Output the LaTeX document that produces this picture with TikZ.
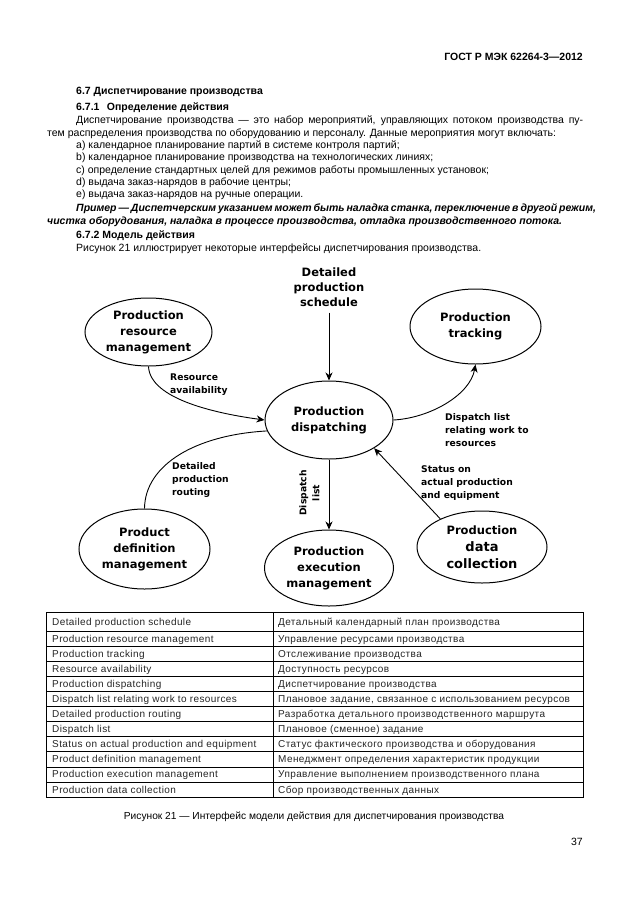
\documentclass[tikz,border=0pt]{standalone}
\usepackage{fontspec}
\setmainfont{Liberation Sans}
\newfontfamily\dejavu{DejaVu Sans}
\newfontfamily\tabfont[LetterSpace=4]{Liberation Sans}
\usetikzlibrary{shapes.geometric,arrows.meta}

\begin{document}
\begin{tikzpicture}[x=1pt,y=-1pt,
  txt/.style={inner sep=0pt,anchor=base west,font=\fontsize{10.5}{12.5}\selectfont},
  hdr/.style={txt,font=\fontsize{10.5}{12.5}\selectfont\bfseries},
  unit/.style={ellipse,draw,line width=1pt,inner sep=0pt,align=center,font=\dejavu\bfseries\fontsize{11.5}{16}\selectfont},
  flow/.style={inner sep=0pt,align=left,anchor=west,font=\dejavu\bfseries\fontsize{9.2}{13}\selectfont},
  link/.style={line width=0.9pt,-{Stealth[length=8pt,width=7pt,inset=2.5pt]}},
  cell/.style={inner sep=0pt,anchor=base west,text=black!85,font=\tabfont\fontsize{10}{11}\selectfont}]
\useasboundingbox[fill=white] (0,0) rectangle (630,913);
\node[hdr,anchor=base east] (gost) at (583,60) {ГОСТ Р МЭК 62264-3—2012};
\node[hdr] (s67) at (76,94) {6.7 Диспетчирование производства};
\node[hdr] (s671) at (76,110.5) {6.7.1\hspace{0.7em}Определение действия};
\node[txt] (p1) at (76,123.5) {\makebox[507pt][s]{Диспетчирование производства — это набор мероприятий, управляющих потоком производства пу-}};
\node[txt] (p2) at (47,136) {тем распределения производства по оборудованию и персоналу. Данные мероприятия могут включать:};
\node[txt] (ia) at (76,148.5) {а) календарное планирование партий в системе контроля партий;};
\node[txt] (ib) at (76,160.5) {b) календарное планирование производства на технологических линиях;};
\node[txt] (ic) at (76,173) {с) определение стандартных целей для режимов работы промышленных установок;};
\node[txt] (id) at (76,185.5) {d) выдача заказ-нарядов в рабочие центры;};
\node[txt] (ie) at (76,197.5) {е) выдача заказ-нарядов на ручные операции.};
\node[txt,font=\fontsize{10.5}{12.5}\selectfont\bfseries\itshape] (ex1) at (76,211.5) {\makebox[507pt][s]{Пример — Диспетчерским указанием может быть наладка станка, переключение в другой режим,}};
\node[txt,font=\fontsize{10.5}{12.5}\selectfont\bfseries\itshape] (ex2) at (47,224) {чистка оборудования, наладка в процессе производства, отладка производственного потока.};
\node[hdr] (s672) at (76,238.5) {6.7.2 Модель действия};
\node[txt] (fig) at (76,251.5) {Рисунок 21 иллюстрирует некоторые интерфейсы диспетчирования производства.};

\node[inner sep=0pt,align=center,font=\dejavu\bfseries\fontsize{11.5}{15}\selectfont] (sched) at (329,287) {Detailed\\production\\schedule};
\node[unit,minimum width=127pt,minimum height=68pt] (prm) at (148.5,332) {Production\\resource\\management};
\node[unit,minimum width=131pt,minimum height=75pt] (track) at (475.5,326.5) {Production\\tracking};
\node[unit,minimum width=128pt,minimum height=78pt] (disp) at (329,420) {Production\\dispatching};
\node[unit,minimum width=131pt,minimum height=80pt] (pdm) at (144.5,549) {Product\\definition\\management};
\node[unit,minimum width=129pt,minimum height=76pt] (pem) at (329,568) {Production\\execution\\management};
\node[unit,minimum width=130pt,minimum height=72pt] (pdc) at (482,547) {Production\\[1pt]{\fontsize{13}{17}\selectfont data}\\[1pt]{\fontsize{13}{17}\selectfont collection}};
\draw[link,shorten <=6pt] (sched) -- (disp);
\draw[link] (prm.south) .. controls (150,400) and (220,414) .. (disp.west);
\draw[line width=0.9pt] (pdm.north) .. controls (145,465) and (195,435) .. (disp.190);
\draw[link] (disp.east) .. controls (430,418) and (470,395) .. (track.south);
\draw[link] (pdc.146) -- (disp.-32);
\draw[link] (disp.south) -- (pem.north);
\node[flow] (resavail) at (170,384.5) {Resource\\availability};
\node[flow] (routing) at (172,479.5) {Detailed\\production\\routing};
\node[flow] (relating) at (445,430) {Dispatch list\\relating work to\\resources};
\node[flow] (status) at (421,483) {Status on\\actual production\\and equipment};
\node[flow,anchor=center,align=center,rotate=90] (dlist) at (309.5,493) {Dispatch\\list};

\draw[line width=0.8pt] (46,612) rectangle (583,797);
\draw[line width=0.8pt] (273,612) -- (273,797);
\draw[line width=0.8pt] (46,631) -- (583,631);
\draw[line width=0.8pt] (46,646.1) -- (583,646.1);
\draw[line width=0.8pt] (46,661.2) -- (583,661.2);
\draw[line width=0.8pt] (46,676.3) -- (583,676.3);
\draw[line width=0.8pt] (46,691.4) -- (583,691.4);
\draw[line width=0.8pt] (46,706.5) -- (583,706.5);
\draw[line width=0.8pt] (46,721.6) -- (583,721.6);
\draw[line width=0.8pt] (46,736.7) -- (583,736.7);
\draw[line width=0.8pt] (46,751.8) -- (583,751.8);
\draw[line width=0.8pt] (46,766.9) -- (583,766.9);
\draw[line width=0.8pt] (46,782) -- (583,782);
\node[cell] (l1) at (52,625) {Detailed production schedule};
\node[cell] (r1) at (278,625) {Детальный календарный план производства};
\node[cell] (l2) at (52,642) {Production resource management};
\node[cell] (r2) at (278,642) {Управление ресурсами производства};
\node[cell] (l3) at (52,657.1) {Production tracking};
\node[cell] (r3) at (278,657.1) {Отслеживание производства};
\node[cell] (l4) at (52,672.2) {Resource availability};
\node[cell] (r4) at (278,672.2) {Доступность ресурсов};
\node[cell] (l5) at (52,687.3) {Production dispatching};
\node[cell] (r5) at (278,687.3) {Диспетчирование производства};
\node[cell] (l6) at (52,702.4) {Dispatch list relating work to resources};
\node[cell] (r6) at (278,702.4) {Плановое задание, связанное с использованием ресурсов};
\node[cell] (l7) at (52,717.5) {Detailed production routing};
\node[cell] (r7) at (278,717.5) {Разработка детального производственного маршрута};
\node[cell] (l8) at (52,732.6) {Dispatch list};
\node[cell] (r8) at (278,732.6) {Плановое (сменное) задание};
\node[cell] (l9) at (52,747.7) {Status on actual production and equipment};
\node[cell] (r9) at (278,747.7) {Статус фактического производства и оборудования};
\node[cell] (l10) at (52,762.8) {Product definition management};
\node[cell] (r10) at (278,762.8) {Менеджмент определения характеристик продукции};
\node[cell] (l11) at (52,777.9) {Production execution management};
\node[cell] (r11) at (278,777.9) {Управление выполнением производственного плана};
\node[cell] (l12) at (52,793) {Production data collection};
\node[cell] (r12) at (278,793) {Сбор производственных данных};
\node[txt,anchor=base,font=\fontsize{10.2}{12}\selectfont] (cap) at (314,819) {Рисунок 21 — Интерфейс модели действия для диспетчирования производства};
\node[txt,anchor=base east] (pnum) at (583,845) {37};
\end{tikzpicture}
\end{document}
